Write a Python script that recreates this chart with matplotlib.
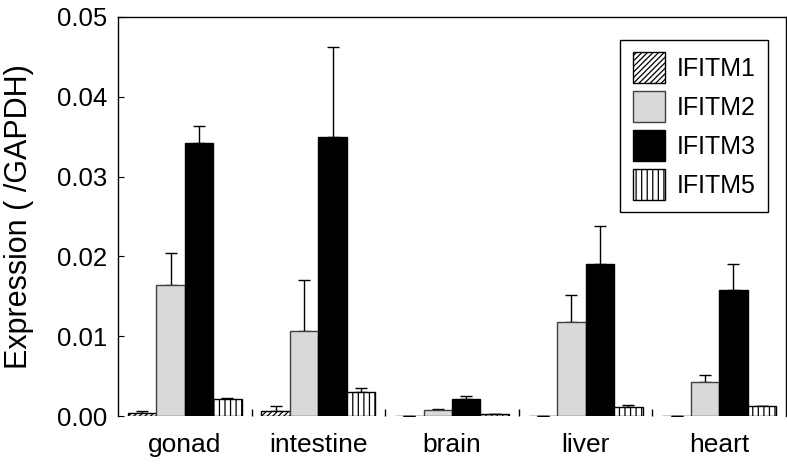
import numpy as np
import matplotlib
matplotlib.use("Agg")
import matplotlib.pyplot as plt
from matplotlib.ticker import FormatStrFormatter, FixedLocator

plt.rcParams['font.family'] = ['Liberation Sans', 'DejaVu Sans']
plt.rcParams['hatch.linewidth'] = 0.9

# data
tissues = ["gonad", "intestine", "brain", "liver", "heart"]
genes = ["IFITM1", "IFITM2", "IFITM3", "IFITM5"]

ifitm1 = [0.0004, 0.00066, 0.0, 0.0, 0.0]
ifitm2 = [0.0164, 0.0107, 0.0008, 0.0118, 0.0043]
ifitm3 = [0.0342, 0.0350, 0.0021, 0.0190, 0.0158]
ifitm5 = [0.0021, 0.0030, 0.0003, 0.0011, 0.0012]

ifitm1_err = [0.0002, 0.0006, 0.0, 0.0, 0.0]
ifitm2_err = [0.0040, 0.0063, 0.0001, 0.0034, 0.0008]
ifitm3_err = [0.0021, 0.0112, 0.0004, 0.0048, 0.0033]
ifitm5_err = [0.0001, 0.0005, 0.0, 0.0003, 0.0001]

values = [ifitm1, ifitm2, ifitm3, ifitm5]
errors = [ifitm1_err, ifitm2_err, ifitm3_err, ifitm5_err]
colors = ["white", "#d9d9d9", "black", "white"]
hatches = ["//////", None, None, "|||"]
edges = ["black", "#404040", "black", "black"]

fig = plt.figure(figsize=(7.87, 4.69), dpi=100)
ax = fig.add_axes([118 / 787, 53 / 469, 668 / 787, 399 / 469])

x = np.arange(len(tissues))
w = 0.213
for i, g in enumerate(genes):
    pos = x + (i - 1.5) * w
    ax.bar(pos, values[i], w, color=colors[i], edgecolor=edges[i],
           hatch=hatches[i], linewidth=1.0, label=g, zorder=2)
    ax.errorbar(pos, values[i], yerr=[np.zeros(len(tissues)), errors[i]],
                fmt="none", ecolor="black", elinewidth=1.0, capsize=4,
                capthick=1.0, zorder=1)

ax.set_xlim(-0.5, 4.5)
ax.set_ylim(0, 0.05)
ax.set_yticks([0, 0.01, 0.02, 0.03, 0.04, 0.05])
ax.yaxis.set_major_formatter(FormatStrFormatter('%.2f'))
ax.tick_params(axis='y', direction='in', length=4, labelsize=18.5, pad=8)

ax.set_xticks(x)
ax.set_xticklabels(tissues)
ax.tick_params(axis='x', which='major', length=0, labelsize=19, pad=12)
ax.xaxis.set_minor_locator(FixedLocator([0.5, 1.5, 2.5, 3.5]))
ax.tick_params(axis='x', which='minor', direction='in', length=5, width=1)

ax.spines['bottom'].set_visible(False)
for s in ['left', 'top', 'right']:
    ax.spines[s].set_linewidth(1.0)

ax.set_ylabel("Expression ( /GAPDH)", fontsize=22, labelpad=16)

leg = ax.legend(loc='upper right', bbox_to_anchor=(0.956, 0.915),
                borderaxespad=0, fontsize=18, handlelength=1.3,
                handleheight=1.5, labelspacing=0.34, borderpad=0.05,
                handletextpad=0.45, fancybox=False, framealpha=1)
leg.get_frame().set_boxstyle('square', pad=0.45)
leg.get_frame().set_edgecolor('black')
leg.get_frame().set_linewidth(1.0)

fig.savefig("out.png", dpi=100)
